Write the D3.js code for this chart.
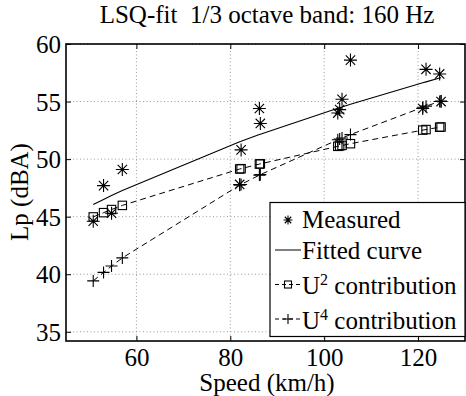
<!DOCTYPE html>
<html>
<head>
<meta charset="utf-8">
<script src="https://cdn.jsdelivr.net/npm/d3@7"></script>
<style>
  html, body { margin: 0; padding: 0; background: #fff; }
  svg { display: block; font-family: "Liberation Serif", "DejaVu Serif", serif; }
  text { white-space: pre; }
</style>
</head>
<body>
<svg id="chart" width="466" height="396"></svg>
<script>
// Pass-by speeds (km/h)
const speeds = [50.8, 53.0, 54.7, 57.0, 82.0, 82.3, 86.2, 86.4,
                102.9, 103.3, 103.8, 105.6, 121.0, 121.7, 124.6, 124.9];
// Measured levels at each speed (dBA)
const measured = [44.6, 47.7, 45.3, 49.1, 47.8, 50.8, 54.4, 53.1,
                  54.0, 54.3, 55.2, 58.6, 54.4, 57.8, 57.4, 55.0];
// Least-squares fitted curve
const fitted = [46.05, 46.50, 46.84, 47.28, 51.51, 51.55, 52.13, 52.16,
                54.41, 54.47, 54.53, 54.76, 56.63, 56.71, 57.04, 57.07];
// U^2 term of the fit
const u2 = [44.98, 45.35, 45.62, 45.98, 49.14, 49.17, 49.57, 49.59,
            51.11, 51.14, 51.19, 51.34, 52.52, 52.57, 52.77, 52.79];
// U^4 term of the fit
const u4 = [39.42, 40.16, 40.71, 41.42, 47.74, 47.80, 48.61, 48.65,
            51.68, 51.75, 51.83, 52.13, 54.50, 54.60, 55.01, 55.05];

const xTicks = [60, 80, 100, 120];
const yTicks = [35, 40, 45, 50, 55, 60];
const titleText = "LSQ-fit  1/3 octave band: 160 Hz";
const xLabel = "Speed (km/h)";
const yLabel = "Lp (dBA)";

const svg = d3.select("#chart");
const m = { left: 66, right: 465, top: 44, bottom: 341 };
const fs = 25;
const FONT = "Liberation Serif";

const x = d3.scaleLinear().domain([45, 130]).range([m.left, m.right]);
const y = d3.scaleLinear().domain([34.2, 60]).range([m.bottom, m.top]);

// grid
const grid = svg.append("g").attr("stroke", "#9a9a9a").attr("stroke-width", 1)
  .attr("stroke-dasharray", "1,2.5");
xTicks.forEach(t => grid.append("line")
  .attr("x1", x(t)).attr("x2", x(t)).attr("y1", m.top).attr("y2", m.bottom));
yTicks.forEach(t => grid.append("line")
  .attr("x1", m.left).attr("x2", m.right).attr("y1", y(t)).attr("y2", y(t)));

// axes (inward ticks on all four sides)
const axB = svg.append("g").attr("transform", `translate(0,${m.bottom})`)
  .call(d3.axisBottom(x).tickValues(xTicks).tickSizeInner(-5).tickSizeOuter(0));
const axT = svg.append("g").attr("transform", `translate(0,${m.top})`)
  .call(d3.axisTop(x).tickValues(xTicks).tickSizeInner(-5).tickSizeOuter(0).tickFormat(""));
const axL = svg.append("g").attr("transform", `translate(${m.left},0)`)
  .call(d3.axisLeft(y).tickValues(yTicks).tickSizeInner(-5).tickSizeOuter(0).tickPadding(5));
const axR = svg.append("g").attr("transform", `translate(${m.right},0)`)
  .call(d3.axisRight(y).tickValues(yTicks).tickSizeInner(-5).tickSizeOuter(0).tickFormat(""));
[axB, axT, axL, axR].forEach(a => {
  a.attr("font-family", FONT);
  a.select(".domain").remove();
  a.selectAll("line").attr("stroke", "#000");
  a.selectAll("text").attr("font-family", FONT).attr("font-size", fs).attr("fill", "#000");
});
axB.selectAll("text").attr("dy", null).attr("y", 25);
axL.selectAll("text").attr("dy", "0.34em");

// frame
svg.append("rect").attr("x", m.left).attr("y", m.top)
  .attr("width", m.right - m.left).attr("height", m.bottom - m.top)
  .attr("fill", "none").attr("stroke", "#000").attr("stroke-width", 1.6);

// markers
function asterisk(g, cx, cy, r) {
  const d = r * 0.72;
  const p = `M${cx - r},${cy}H${cx + r}M${cx},${cy - r}V${cy + r}` +
            `M${cx - d},${cy - d}L${cx + d},${cy + d}M${cx - d},${cy + d}L${cx + d},${cy - d}`;
  g.append("path").attr("d", p).attr("stroke", "#000").attr("stroke-width", 1.1).attr("fill", "none");
}
function plus(g, cx, cy, r) {
  g.append("path").attr("d", `M${cx - r},${cy}H${cx + r}M${cx},${cy - r}V${cy + r}`)
    .attr("stroke", "#000").attr("stroke-width", 1.1).attr("fill", "none");
}
function square(g, cx, cy, r) {
  g.append("rect").attr("x", cx - r).attr("y", cy - r).attr("width", 2 * r).attr("height", 2 * r)
    .attr("stroke", "#000").attr("stroke-width", 1.1).attr("fill", "none");
}

const line = d3.line().x(d => x(d[0])).y(d => y(d[1]));
const plot = svg.append("g");

// U^4 contribution
plot.append("path").datum(d3.zip(speeds, u4)).attr("d", line)
  .attr("fill", "none").attr("stroke", "#000").attr("stroke-width", 1).attr("stroke-dasharray", "6,4");
d3.zip(speeds, u4).forEach(([s, v]) => plus(plot, x(s), y(v), 6));

// U^2 contribution
plot.append("path").datum(d3.zip(speeds, u2)).attr("d", line)
  .attr("fill", "none").attr("stroke", "#000").attr("stroke-width", 1).attr("stroke-dasharray", "6,4");
d3.zip(speeds, u2).forEach(([s, v]) => square(plot, x(s), y(v), 4.2));

// fitted curve
plot.append("path").datum(d3.zip(speeds, fitted)).attr("d", line)
  .attr("fill", "none").attr("stroke", "#000").attr("stroke-width", 1.1);

// measured
d3.zip(speeds, measured).forEach(([s, v]) => asterisk(plot, x(s), y(v), 6.5));

// legend
const lg = svg.append("g");
lg.append("rect").attr("x", 270).attr("y", 202.5).attr("width", 195).attr("height", 134)
  .attr("fill", "#fff").attr("stroke", "#000").attr("stroke-width", 1.2);
const lx0 = 275, lx1 = 301, ltx = 302;
asterisk(lg, 288, 220, 4.5);
lg.append("line").attr("x1", lx0).attr("x2", lx1).attr("y1", 250).attr("y2", 250)
  .attr("stroke", "#000").attr("stroke-width", 1);
lg.append("line").attr("x1", lx0).attr("x2", lx1).attr("y1", 284.5).attr("y2", 284.5)
  .attr("stroke", "#000").attr("stroke-width", 1).attr("stroke-dasharray", "4,3");
square(lg, 288, 284.5, 3.5);
lg.append("line").attr("x1", lx0).attr("x2", lx1).attr("y1", 319).attr("y2", 319)
  .attr("stroke", "#000").attr("stroke-width", 1).attr("stroke-dasharray", "4,3");
plus(lg, 288, 319, 5);

const lt = (yy) => lg.append("text").attr("x", ltx).attr("y", yy)
  .attr("font-size", fs).attr("font-family", FONT).attr("fill", "#000");
lt(228).text("Measured");
lt(259).text("Fitted curve");
const t2 = lt(294);
t2.append("tspan").text("U");
t2.append("tspan").attr("font-size", 16).attr("dy", -9).text("2");
t2.append("tspan").attr("dy", 9).text(" contribution");
const t4 = lt(329);
t4.append("tspan").text("U");
t4.append("tspan").attr("font-size", 16).attr("dy", -9).text("4");
t4.append("tspan").attr("dy", 9).text(" contribution");

// titles
svg.append("text").attr("x", 267).attr("y", 23).attr("text-anchor", "middle")
  .attr("font-size", fs).attr("font-family", FONT).text(titleText);
svg.append("text").attr("x", 267).attr("y", 391).attr("text-anchor", "middle")
  .attr("font-size", fs).attr("font-family", FONT).text(xLabel);
svg.append("text").attr("transform", `translate(28,192) rotate(-90)`).attr("text-anchor", "middle")
  .attr("font-size", fs).attr("font-family", FONT).text(yLabel);
</script>
</body>
</html>
